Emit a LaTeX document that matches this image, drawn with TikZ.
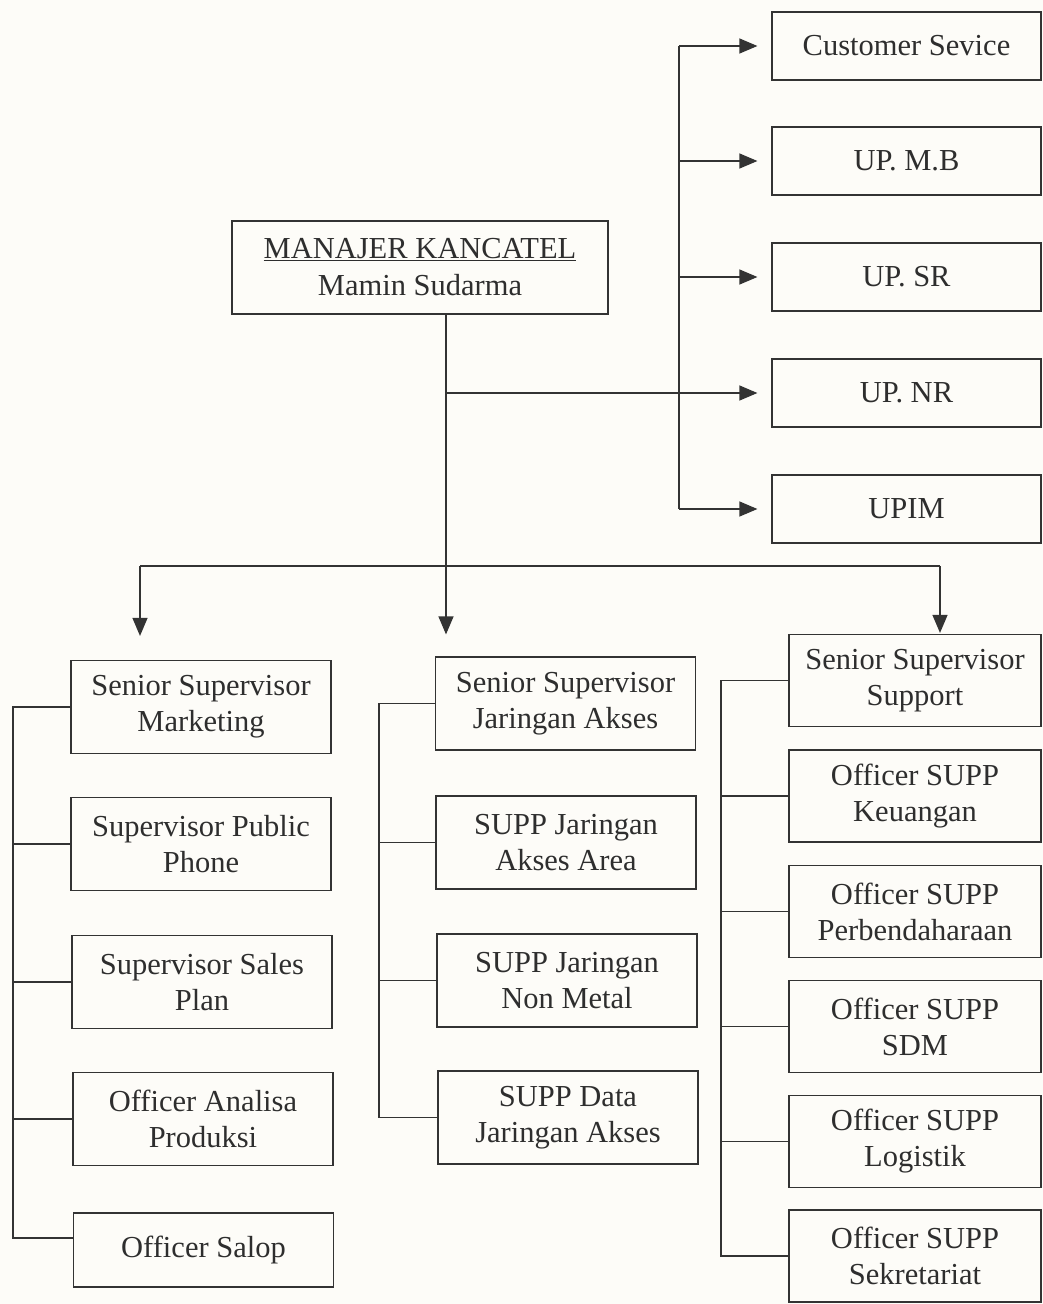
\documentclass[tikz,border=0pt]{standalone}
\usepackage{fontspec}
\setmainfont{Liberation Serif}
\usetikzlibrary{arrows.meta}
\definecolor{linec}{HTML}{333333}
\definecolor{txtc}{HTML}{2E2E2E}
\definecolor{bgc}{HTML}{FDFCF8}
\begin{document}
\begin{tikzpicture}[x=1pt,y=-1pt,
  box/.style={draw=linec, line width=1.2pt, text=txtc, align=center, inner sep=0pt,
              font=\fontsize{30.5}{36}\selectfont},
  conn/.style={draw=linec, line width=1.2pt},
  arr/.style={conn, -{Triangle[length=18pt,width=15pt]}}]
\fill[bgc] (0,0) rectangle (1043,1304);
\useasboundingbox (0,0) rectangle (1043,1304);

% manager
\node[box, minimum width=376pt, minimum height=93pt] (mgr) at (420,267.5)
  {\underline{MANAJER KANCATEL}\\[1pt]Mamin Sudarma};

% top right units
\tikzset{unit/.style={box, minimum width=269pt, minimum height=68pt}}
\node[unit] (cs)   at (906.5,46)  {Customer Sevice};
\node[unit] (mb)   at (906.5,161) {UP. M.B};
\node[unit] (sr)   at (906.5,277) {UP. SR};
\node[unit] (nr)   at (906.5,393) {UP. NR};
\node[unit] (upim) at (906.5,509) {UPIM};

% left column
\tikzset{lbox/.style={box, minimum width=260pt, minimum height=93pt}}
\node[lbox] (ssm) at (201,707)  {Senior Supervisor\\Marketing};
\node[lbox] (spp) at (201,844)  {Supervisor Public\\Phone};
\node[lbox] (ssp) at (202,982)  {Supervisor Sales\\Plan};
\node[lbox] (oap) at (203,1119) {Officer Analisa\\Produksi};
\node[lbox, minimum height=74pt] (osl) at (203.5,1250) {Officer Salop};

% middle column
\node[lbox] (ssj) at (565.5,703.5)  {Senior Supervisor\\Jaringan Akses};
\node[lbox] (sja) at (566,842.5)    {SUPP Jaringan\\Akses Area};
\node[lbox] (sjn) at (567,980.5)    {SUPP Jaringan\\Non Metal};
\node[lbox] (sdj) at (568,1117.5)   {SUPP Data\\Jaringan Akses};

% right column
\tikzset{rbox/.style={box, minimum width=252pt, minimum height=92pt}}
\node[rbox] (sss) at (915,680.5)   {Senior Supervisor\\Support};
\node[rbox] (oku) at (915,796)     {Officer SUPP\\Keuangan};
\node[rbox] (opb) at (915,911.5)   {Officer SUPP\\Perbendaharaan};
\node[rbox] (osd) at (915,1026.5)  {Officer SUPP\\SDM};
\node[rbox] (olg) at (915,1141.5)  {Officer SUPP\\Logistik};
\node[rbox] (osk) at (915,1256)    {Officer SUPP\\Sekretariat};

% trunk to units
\coordinate (tr) at (679,0);
\draw[conn] (cs.west -| tr) -- (upim.west -| tr);
\foreach \n in {cs,mb,sr,upim}
  \draw[arr, shorten >=14pt] (\n.west -| tr) -- (\n.west);

% manager vertical
\coordinate (mx) at ([xshift=26pt]mgr.south);
\draw[arr, shorten >=22pt] (mx) -- (mx |- ssj.north);
\draw[arr, shorten >=14pt] (mx |- nr.west) -- (nr.west);

% bus
\coordinate (bus) at (0,566);
\coordinate (la) at ([xshift=-61pt]ssm.north);
\coordinate (ra) at ([xshift=25pt]sss.north);
\draw[conn] (la |- bus) -- (ra |- bus);
\draw[arr, shorten >=24pt] (la |- bus) -- (la);
\draw[arr, shorten >=1pt] (ra |- bus) -- (ra);

% left bracket
\coordinate (lb) at (13,0);
\draw[conn] (ssm.west) -- (ssm.west -| lb) -- ([yshift=12pt]osl.west -| lb) -- ([yshift=12pt]osl.west);
\foreach \n in {spp,ssp,oap}
  \draw[conn] (\n.west -| lb) -- (\n.west);

% middle bracket
\coordinate (mb2) at (379,0);
\draw[conn] (ssj.west) -- (ssj.west -| mb2) |- (sdj.west);
\foreach \n in {sja,sjn}
  \draw[conn] (\n.west -| mb2) -- (\n.west);

% right bracket
\coordinate (rb) at (721,0);
\draw[conn] (sss.west) -- (sss.west -| rb) |- (osk.west);
\foreach \n in {oku,opb,osd,olg}
  \draw[conn] (\n.west -| rb) -- (\n.west);
\end{tikzpicture}
\end{document}
